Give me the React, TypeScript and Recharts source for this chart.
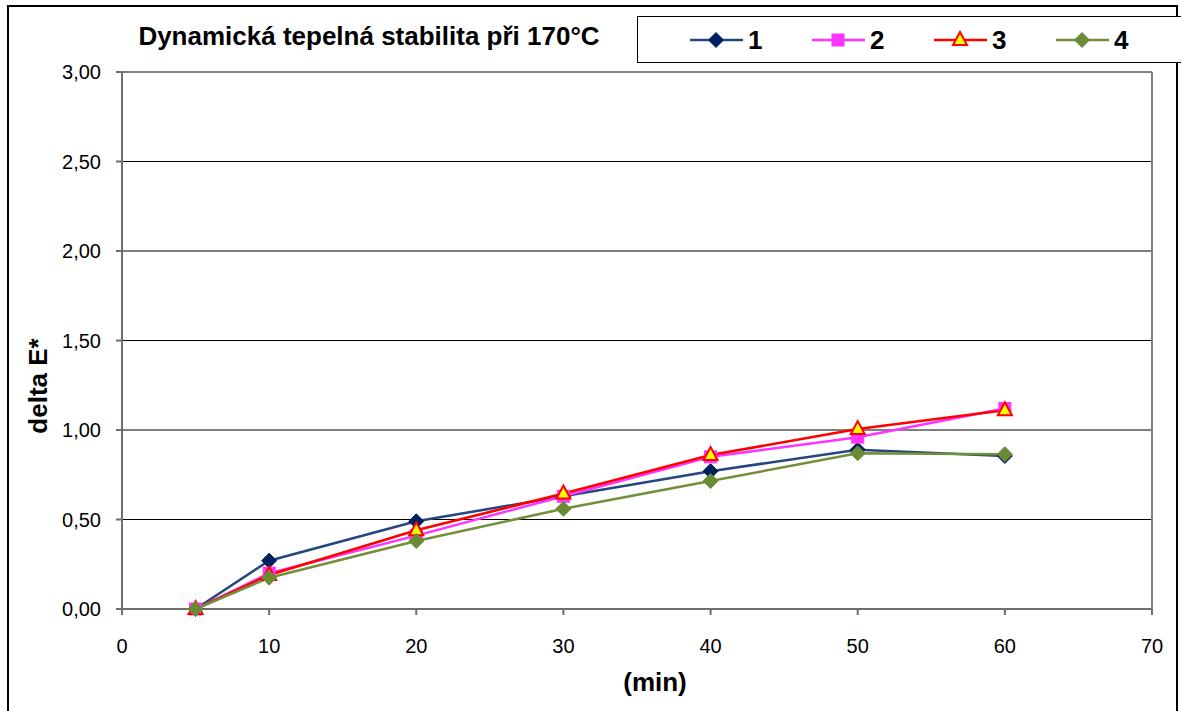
import { LineChart, Line, XAxis, YAxis, CartesianGrid, ReferenceLine } from "recharts";

const minutes = [5, 10, 20, 30, 40, 50, 60];
const series1 = [0, 0.27, 0.49, 0.63, 0.77, 0.89, 0.855];
const series2 = [0, 0.2, 0.41, 0.63, 0.85, 0.96, 1.12];
const series3 = [0, 0.19, 0.44, 0.645, 0.86, 1.005, 1.11];
const series4 = [0, 0.175, 0.38, 0.56, 0.715, 0.87, 0.865];
const xTicks = [0, 10, 20, 30, 40, 50, 60, 70];
const yTicks = [0, 0.5, 1, 1.5, 2, 2.5, 3];

const FONT = "'Liberation Sans', Arial, sans-serif";

const data = minutes.map((m, i) => ({
  min: m,
  s1: series1[i],
  s2: series2[i],
  s3: series3[i],
  s4: series4[i],
}));

type Shape = "diamond" | "square" | "triangle";

const SERIES: { key: string; name: string; line: string; fill: string; stroke: string; shape: Shape }[] = [
  { key: "s1", name: "1", line: "#25467e", fill: "#00215f", stroke: "#00215f", shape: "diamond" },
  { key: "s2", name: "2", line: "#ff33ff", fill: "#ff33ff", stroke: "#ff33ff", shape: "square" },
  { key: "s3", name: "3", line: "#ff0000", fill: "#ffff00", stroke: "#ff0000", shape: "triangle" },
  { key: "s4", name: "4", line: "#728f3a", fill: "#6b8a34", stroke: "#6b8a34", shape: "diamond" },
];

// marker shapes, Excel style
function Marker({ cx, cy, shape, fill, stroke }: { cx: number; cy: number; shape: Shape; fill: string; stroke: string }) {
  if (cx == null || cy == null) return null;
  if (shape === "diamond") {
    const r = 7.5;
    return <polygon points={`${cx},${cy - r} ${cx + r},${cy} ${cx},${cy + r} ${cx - r},${cy}`} fill={fill} stroke={stroke} strokeWidth={1} />;
  }
  if (shape === "square") {
    return <rect x={cx - 6} y={cy - 6} width={12} height={12} fill={fill} stroke={stroke} strokeWidth={1} />;
  }
  return <polygon points={`${cx},${cy - 8} ${cx + 7},${cy + 5} ${cx - 7},${cy + 5}`} fill={fill} stroke={stroke} strokeWidth={2} />;
}

const fmt = (v: number) => v.toFixed(2).replace(".", ",");

const titleStyle = {
  position: "absolute" as const,
  textAlign: "center" as const,
  fontFamily: FONT,
  fontWeight: 700,
  fontSize: 26,
  lineHeight: "26px",
};

function LegendBox() {
  return (
    <div
      style={{
        position: "absolute",
        left: 637,
        top: 16,
        width: 533,
        height: 45,
        border: "1px solid #000",
        background: "#fff",
        display: "flex",
        alignItems: "center",
        paddingLeft: 51,
        boxSizing: "content-box",
      }}
    >
      {SERIES.map((s) => (
        <div key={s.key} style={{ display: "flex", alignItems: "center", width: 122 }}>
          <svg width={56} height={20}>
            <line x1={1} y1={10} x2={54} y2={10} stroke={s.line} strokeWidth={2.5} />
            <Marker cx={27} cy={10} shape={s.shape} fill={s.fill} stroke={s.stroke} />
          </svg>
          <span style={{ fontFamily: FONT, fontWeight: 700, fontSize: 26, marginLeft: 3, lineHeight: "26px" }}>{s.name}</span>
        </div>
      ))}
    </div>
  );
}

export default function App() {
  return (
    <div style={{ position: "fixed", left: 0, top: 0, width: 1181, height: 711, background: "#fff", overflow: "hidden" }}>
      <div style={{ position: "absolute", left: 7, top: 5, width: 1167, height: 720, border: "2px solid #000" }} />
      <div style={{ position: "absolute", left: 0, top: 0 }}>
        <LineChart width={1181} height={711} data={data} margin={{ top: 72, right: 29, left: 52, bottom: 42 }}>
          <CartesianGrid horizontal vertical={false} stroke="#000" strokeWidth={1} />
          <XAxis
            dataKey="min"
            type="number"
            domain={[0, 70]}
            ticks={xTicks}
            height={60}
            stroke="#6e6e6e"
            strokeWidth={2}
            tickSize={6}
            tickMargin={24}
            tick={{ fill: "#000", fontSize: 20, fontFamily: FONT }}
          />
          <YAxis
            domain={[0, 3]}
            ticks={yTicks}
            width={70}
            stroke="#6e6e6e"
            strokeWidth={2}
            tickSize={6}
            tickMargin={15}
            tickFormatter={fmt}
            tick={{ fill: "#000", fontSize: 20, fontFamily: FONT }}
          />
          <ReferenceLine y={3} stroke="#808080" strokeWidth={2} />
          <ReferenceLine x={70} stroke="#808080" strokeWidth={2} />
          {SERIES.map((s) => (
            <Line
              key={s.key}
              dataKey={s.key}
              name={s.name}
              stroke={s.line}
              strokeWidth={2.5}
              isAnimationActive={false}
              dot={(p: any) => <Marker key={`${s.key}-${p.index}`} cx={p.cx} cy={p.cy} shape={s.shape} fill={s.fill} stroke={s.stroke} />}
              activeDot={false}
            />
          ))}
        </LineChart>
      </div>
      <div style={{ ...titleStyle, left: 119, top: 23, width: 500 }}>Dynamická tepelná stabilita při 170°C</div>
      <LegendBox />
      <div style={{ ...titleStyle, left: 555, top: 669, width: 200 }}>(min)</div>
      <div style={{ ...titleStyle, left: -62, top: 373, width: 200, height: 26, transform: "rotate(-90deg)" }}>delta E*</div>
    </div>
  );
}
